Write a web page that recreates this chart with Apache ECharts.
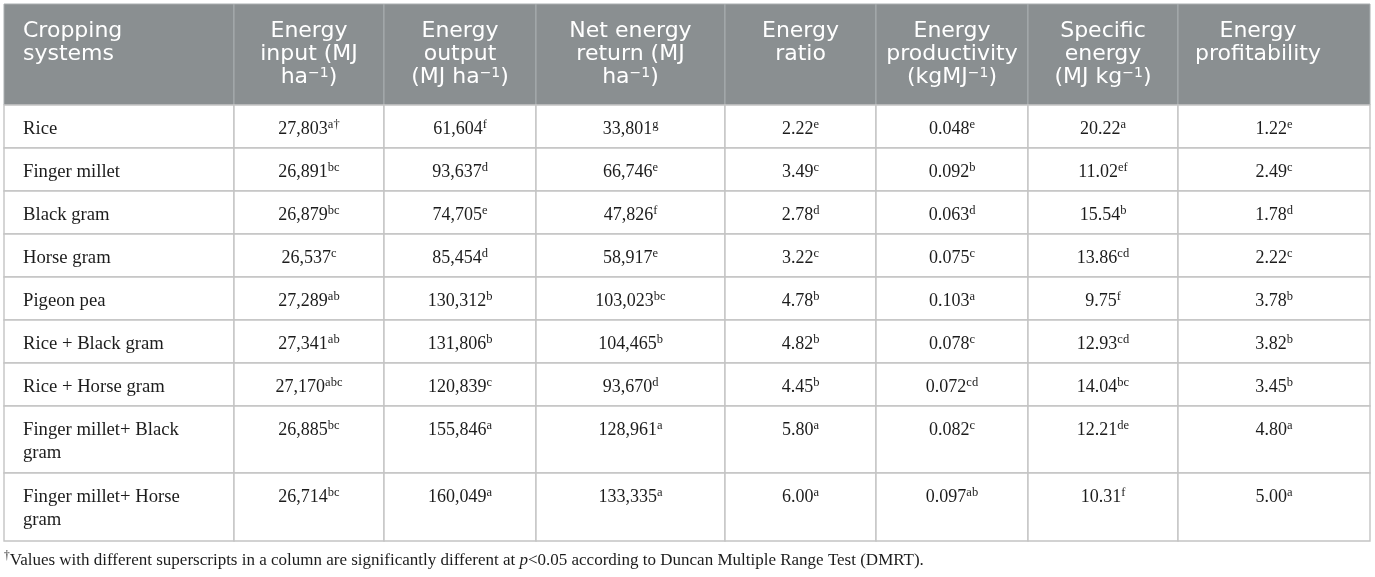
<!DOCTYPE html>
<html lang="en">
<head>
<meta charset="UTF-8">
<title>Energy budgeting of cropping systems</title>
<script src="https://cdn.jsdelivr.net/npm/echarts@6/dist/echarts.min.js"></script>
<style>
    html, body { margin: 0; padding: 0; background: #fff; }
    #main { width: 1375px; height: 577px; }
</style>
</head>
<body>

<div id="main"></div>

<script type="text/javascript">
    // table content
    var headers = [
        'Cropping\nsystems',
        'Energy\ninput (MJ\nha{hs|−1})',
        'Energy\noutput\n(MJ ha{hs|−1})',
        'Net energy\nreturn (MJ\nha{hs|−1})',
        'Energy\nratio',
        'Energy\nproductivity\n(kgMJ{hs|−1})',
        'Specific\nenergy\n(MJ kg{hs|−1})',
        'Energy\nprofitability'
    ];
    var systems = ['Rice', 'Finger millet', 'Black gram', 'Horse gram', 'Pigeon pea',
        'Rice + Black gram', 'Rice + Horse gram', 'Finger millet+ Black\ngram', 'Finger millet+ Horse\ngram'];

    var energyInput = [27803, 26891, 26879, 26537, 27289, 27341, 27170, 26885, 26714];
    var energyInputSig = ['a†', 'bc', 'bc', 'c', 'ab', 'ab', 'abc', 'bc', 'bc'];
    var energyOutput = [61604, 93637, 74705, 85454, 130312, 131806, 120839, 155846, 160049];
    var energyOutputSig = ['f', 'd', 'e', 'd', 'b', 'b', 'c', 'a', 'a'];
    var netReturn = [33801, 66746, 47826, 58917, 103023, 104465, 93670, 128961, 133335];
    var netReturnSig = ['g', 'e', 'f', 'e', 'bc', 'b', 'd', 'a', 'a'];
    var energyRatio = [2.22, 3.49, 2.78, 3.22, 4.78, 4.82, 4.45, 5.80, 6.00];
    var energyRatioSig = ['e', 'c', 'd', 'c', 'b', 'b', 'b', 'a', 'a'];
    var productivity = [0.048, 0.092, 0.063, 0.075, 0.103, 0.078, 0.072, 0.082, 0.097];
    var productivitySig = ['e', 'b', 'd', 'c', 'a', 'c', 'cd', 'c', 'ab'];
    var specificEnergy = [20.22, 11.02, 15.54, 13.86, 9.75, 12.93, 14.04, 12.21, 10.31];
    var specificEnergySig = ['a', 'ef', 'b', 'cd', 'f', 'cd', 'bc', 'de', 'f'];
    var profitability = [1.22, 2.49, 1.78, 2.22, 3.78, 3.82, 3.45, 4.80, 5.00];
    var profitabilitySig = ['e', 'c', 'd', 'c', 'b', 'b', 'b', 'a', 'a'];

    var footnote = '{s|†}Values with different superscripts in a column are significantly different at ' +
        '{i|p}<0.05 according to Duncan Multiple Range Test (DMRT).';

    // layout
    var colWidths = [230, 150, 152, 189, 151, 152, 150, 192];
    var rowHeights = [101, 43, 43, 43, 43, 43, 43, 43, 67, 68];
    var headShift = [0, 0, 0, 0, 0, 0, 0, -16];

    var xEdges = [0], yEdges = [0];
    colWidths.forEach(function (w, i) { xEdges.push(xEdges[i] + w); });
    rowHeights.forEach(function (h, i) { yEdges.push(yEdges[i] + h); });

    var columns = [
        [energyInput, energyInputSig, 0],
        [energyOutput, energyOutputSig, 0],
        [netReturn, netReturnSig, 0],
        [energyRatio, energyRatioSig, 2],
        [productivity, productivitySig, 3],
        [specificEnergy, specificEnergySig, 2],
        [profitability, profitabilitySig, 2]
    ];

    function fmt(v, digits) {
        return digits === 0 ? v.toLocaleString('en-US') : v.toFixed(digits);
    }

    // one item per cell: [column, row], texts kept alongside
    var cells = [], cellText = [];
    headers.forEach(function (h, c) {
        cells.push([c, 0]);
        cellText.push(h);
    });
    systems.forEach(function (name, r) {
        cells.push([0, r + 1]);
        cellText.push(name);
        columns.forEach(function (col, c) {
            cells.push([c + 1, r + 1]);
            cellText.push(fmt(col[0][r], col[2]) + '{s|' + col[1][r] + '}');
        });
    });

    var serif = '"Liberation Serif", "Times New Roman", serif';
    var sans = '"DejaVu Sans", sans-serif';

    function renderCell(params, api) {
        var c = api.value(0), r = api.value(1);
        var p0 = api.coord([xEdges[c], yEdges[r]]);
        var p1 = api.coord([xEdges[c + 1], yEdges[r + 1]]);
        var head = r === 0;
        var first = c === 0;
        var tx = first ? p0[0] + 19 : (p0[0] + p1[0]) / 2 + (head ? headShift[c] : 0);
        return {
            type: 'group',
            children: [{
                type: 'rect',
                shape: {x: p0[0], y: p0[1], width: p1[0] - p0[0], height: p1[1] - p0[1]},
                style: {
                    fill: head ? '#8a8f91' : '#ffffff',
                    stroke: head ? '#a9aeb0' : '#c4c4c4',
                    lineWidth: head ? 1 : 1.4
                }
            }, {
                type: 'text',
                z2: 10,
                style: {
                    text: cellText[params.dataIndex],
                    x: tx,
                    y: p0[1] + (head ? 16 : 13),
                    align: first ? 'left' : 'center',
                    verticalAlign: 'top',
                    fontFamily: head ? sans : serif,
                    fontSize: head ? 22 : (first ? 18.7 : 18),
                    lineHeight: 23,
                    fill: head ? '#ffffff' : '#1c1c1c',
                    rich: {
                        hs: {fontFamily: sans, fontSize: 14, lineHeight: 12, verticalAlign: 'top', fill: '#ffffff'},
                        s: {fontFamily: serif, fontSize: 12.5, lineHeight: 11, verticalAlign: 'top', fill: '#1c1c1c'}
                    }
                }
            }]
        };
    }

    var chart = echarts.init(document.getElementById('main'));
    chart.setOption({
        animation: false,
        backgroundColor: '#ffffff',
        title: {
            text: footnote,
            left: 2,
            top: 550,
            padding: [0, 0, 0, 2],
            textStyle: {
                fontFamily: serif,
                fontSize: 17,
                fontWeight: 'normal',
                color: '#1c1c1c',
                lineHeight: 21,
                rich: {
                    s: {fontFamily: serif, fontSize: 11.5, lineHeight: 12, verticalAlign: 'top', color: '#1c1c1c'},
                    i: {fontFamily: serif, fontSize: 17, fontStyle: 'italic', lineHeight: 21, color: '#1c1c1c'}
                }
            }
        },
        grid: {left: 4, top: 4, width: xEdges[xEdges.length - 1], height: yEdges[yEdges.length - 1]},
        xAxis: {type: 'value', min: 0, max: xEdges[xEdges.length - 1], show: false},
        yAxis: {type: 'value', min: 0, max: yEdges[yEdges.length - 1], inverse: true, show: false},
        series: [{
            type: 'custom',
            coordinateSystem: 'cartesian2d',
            clip: false,
            silent: true,
            data: cells,
            renderItem: renderCell
        }]
    });
</script>

</body>
</html>
